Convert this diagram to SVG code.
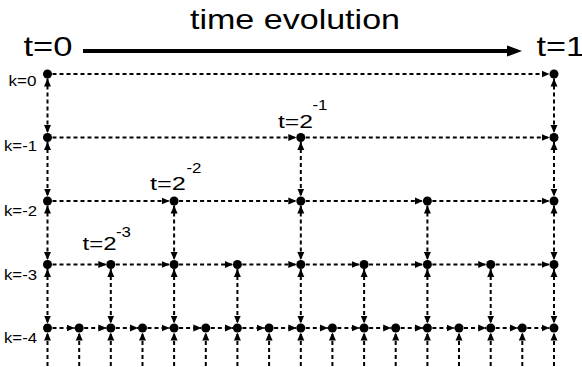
<svg xmlns="http://www.w3.org/2000/svg" width="582" height="367" viewBox="0 0 582 367">
<style>
text{font-family:"Liberation Sans",Arial,sans-serif;fill:#000}
.big{font-size:28px}
.mid{font-size:19px}
.sup{font-size:14px}
.lab{font-size:14px}
.c line{stroke:#000;stroke-width:2;stroke-dasharray:4 3;fill:none}
.h{marker-end:url(#ah)}
.v{marker-start:url(#ah);marker-end:url(#ah)}
.b{marker-end:url(#ah)}
.dot{fill:#000}
</style>
<defs>
<marker id="ah" viewBox="0 0 8 8" markerWidth="8" markerHeight="8" refX="8" refY="4" orient="auto-start-reverse" markerUnits="userSpaceOnUse"><path d="M0,0.5 L8,4 L0,7.5 z" fill="#000"/></marker>
</defs>
<rect width="582" height="367" fill="#fff"/>
<g id="title">
<text class="big" x="190" y="29" textLength="210" lengthAdjust="spacingAndGlyphs">time evolution</text>
<text class="big" x="23.5" y="55.5" textLength="49" lengthAdjust="spacingAndGlyphs">t=0</text>
<text class="big" x="536.5" y="55.5" textLength="48.5" lengthAdjust="spacingAndGlyphs">t=1</text>
<line x1="83" y1="51" x2="509" y2="51" stroke="#000" stroke-width="4"/>
<polygon points="507,45.5 522,51 507,56.5" fill="#000"/>
</g>
<g id="levels">
<text class="lab" x="8.5" y="86" textLength="28" lengthAdjust="spacingAndGlyphs">k=0</text>
<text class="lab" x="4" y="151" textLength="33" lengthAdjust="spacingAndGlyphs">k=-1</text>
<text class="lab" x="4" y="216" textLength="33" lengthAdjust="spacingAndGlyphs">k=-2</text>
<text class="lab" x="4" y="280" textLength="33" lengthAdjust="spacingAndGlyphs">k=-3</text>
<text class="lab" x="4" y="343" textLength="33" lengthAdjust="spacingAndGlyphs">k=-4</text>
</g>
<g id="timelabels">
<text class="mid" x="278" y="128" textLength="35" lengthAdjust="spacingAndGlyphs">t=2</text>
<text class="sup" x="312.5" y="110" textLength="15" lengthAdjust="spacingAndGlyphs">-1</text>
<text class="mid" x="150" y="190" textLength="36" lengthAdjust="spacingAndGlyphs">t=2</text>
<text class="sup" x="186.5" y="173" textLength="15" lengthAdjust="spacingAndGlyphs">-2</text>
<text class="mid" x="82.5" y="250" textLength="34" lengthAdjust="spacingAndGlyphs">t=2</text>
<text class="sup" x="116" y="237" textLength="15" lengthAdjust="spacingAndGlyphs">-3</text>
</g>
<g id="connectors" class="c">
<line class="h" x1="52.5" y1="74" x2="549.5" y2="74"/>
<line class="h" x1="52.5" y1="137.5" x2="296.3" y2="137.5"/>
<line class="h" x1="305.8" y1="137.5" x2="549.5" y2="137.5"/>
<line class="h" x1="52.5" y1="201" x2="169.6" y2="201"/>
<line class="h" x1="179.1" y1="201" x2="296.3" y2="201"/>
<line class="h" x1="305.8" y1="201" x2="422.9" y2="201"/>
<line class="h" x1="432.4" y1="201" x2="549.5" y2="201"/>
<line class="h" x1="52.5" y1="264.5" x2="106.3" y2="264.5"/>
<line class="h" x1="115.8" y1="264.5" x2="169.6" y2="264.5"/>
<line class="h" x1="179.1" y1="264.5" x2="232.9" y2="264.5"/>
<line class="h" x1="242.4" y1="264.5" x2="296.3" y2="264.5"/>
<line class="h" x1="305.8" y1="264.5" x2="359.6" y2="264.5"/>
<line class="h" x1="369.1" y1="264.5" x2="422.9" y2="264.5"/>
<line class="h" x1="432.4" y1="264.5" x2="486.2" y2="264.5"/>
<line class="h" x1="495.7" y1="264.5" x2="549.5" y2="264.5"/>
<line class="h" x1="52.5" y1="328" x2="74.7" y2="328"/>
<line class="h" x1="84.2" y1="328" x2="106.3" y2="328"/>
<line class="h" x1="115.8" y1="328" x2="138" y2="328"/>
<line class="h" x1="147.5" y1="328" x2="169.6" y2="328"/>
<line class="h" x1="179.1" y1="328" x2="201.3" y2="328"/>
<line class="h" x1="210.8" y1="328" x2="232.9" y2="328"/>
<line class="h" x1="242.4" y1="328" x2="264.6" y2="328"/>
<line class="h" x1="274.1" y1="328" x2="296.3" y2="328"/>
<line class="h" x1="305.8" y1="328" x2="327.9" y2="328"/>
<line class="h" x1="337.4" y1="328" x2="359.6" y2="328"/>
<line class="h" x1="369.1" y1="328" x2="391.2" y2="328"/>
<line class="h" x1="400.7" y1="328" x2="422.9" y2="328"/>
<line class="h" x1="432.4" y1="328" x2="454.5" y2="328"/>
<line class="h" x1="464" y1="328" x2="486.2" y2="328"/>
<line class="h" x1="495.7" y1="328" x2="517.8" y2="328"/>
<line class="h" x1="527.3" y1="328" x2="549.5" y2="328"/>
<line class="v" x1="47.5" y1="78.5" x2="47.5" y2="133"/>
<line class="v" x1="554" y1="78.5" x2="554" y2="133"/>
<line class="v" x1="47.5" y1="142" x2="47.5" y2="196.5"/>
<line class="v" x1="300.8" y1="142" x2="300.8" y2="196.5"/>
<line class="v" x1="554" y1="142" x2="554" y2="196.5"/>
<line class="v" x1="47.5" y1="205.5" x2="47.5" y2="260"/>
<line class="v" x1="174.1" y1="205.5" x2="174.1" y2="260"/>
<line class="v" x1="300.8" y1="205.5" x2="300.8" y2="260"/>
<line class="v" x1="427.4" y1="205.5" x2="427.4" y2="260"/>
<line class="v" x1="554" y1="205.5" x2="554" y2="260"/>
<line class="v" x1="47.5" y1="269" x2="47.5" y2="323.5"/>
<line class="v" x1="110.8" y1="269" x2="110.8" y2="323.5"/>
<line class="v" x1="174.1" y1="269" x2="174.1" y2="323.5"/>
<line class="v" x1="237.4" y1="269" x2="237.4" y2="323.5"/>
<line class="v" x1="300.8" y1="269" x2="300.8" y2="323.5"/>
<line class="v" x1="364.1" y1="269" x2="364.1" y2="323.5"/>
<line class="v" x1="427.4" y1="269" x2="427.4" y2="323.5"/>
<line class="v" x1="490.7" y1="269" x2="490.7" y2="323.5"/>
<line class="v" x1="554" y1="269" x2="554" y2="323.5"/>
<line class="b" x1="47.5" y1="366" x2="47.5" y2="332.5"/>
<line class="b" x1="79.2" y1="366" x2="79.2" y2="332.5"/>
<line class="b" x1="110.8" y1="366" x2="110.8" y2="332.5"/>
<line class="b" x1="142.5" y1="366" x2="142.5" y2="332.5"/>
<line class="b" x1="174.1" y1="366" x2="174.1" y2="332.5"/>
<line class="b" x1="205.8" y1="366" x2="205.8" y2="332.5"/>
<line class="b" x1="237.4" y1="366" x2="237.4" y2="332.5"/>
<line class="b" x1="269.1" y1="366" x2="269.1" y2="332.5"/>
<line class="b" x1="300.8" y1="366" x2="300.8" y2="332.5"/>
<line class="b" x1="332.4" y1="366" x2="332.4" y2="332.5"/>
<line class="b" x1="364.1" y1="366" x2="364.1" y2="332.5"/>
<line class="b" x1="395.7" y1="366" x2="395.7" y2="332.5"/>
<line class="b" x1="427.4" y1="366" x2="427.4" y2="332.5"/>
<line class="b" x1="459" y1="366" x2="459" y2="332.5"/>
<line class="b" x1="490.7" y1="366" x2="490.7" y2="332.5"/>
<line class="b" x1="522.3" y1="366" x2="522.3" y2="332.5"/>
<line class="b" x1="554" y1="366" x2="554" y2="332.5"/>
</g>
<g id="k0">
<g id="n0_0"><circle class="dot" cx="47.5" cy="74" r="4.5"/></g>
<g id="n0_16"><circle class="dot" cx="554" cy="74" r="4.5"/></g>
</g>
<g id="k-1">
<g id="n1_0"><circle class="dot" cx="47.5" cy="137.5" r="4.5"/></g>
<g id="n1_8"><circle class="dot" cx="300.8" cy="137.5" r="4.5"/></g>
<g id="n1_16"><circle class="dot" cx="554" cy="137.5" r="4.5"/></g>
</g>
<g id="k-2">
<g id="n2_0"><circle class="dot" cx="47.5" cy="201" r="4.5"/></g>
<g id="n2_4"><circle class="dot" cx="174.1" cy="201" r="4.5"/></g>
<g id="n2_8"><circle class="dot" cx="300.8" cy="201" r="4.5"/></g>
<g id="n2_12"><circle class="dot" cx="427.4" cy="201" r="4.5"/></g>
<g id="n2_16"><circle class="dot" cx="554" cy="201" r="4.5"/></g>
</g>
<g id="k-3">
<g id="n3_0"><circle class="dot" cx="47.5" cy="264.5" r="4.5"/></g>
<g id="n3_2"><circle class="dot" cx="110.8" cy="264.5" r="4.5"/></g>
<g id="n3_4"><circle class="dot" cx="174.1" cy="264.5" r="4.5"/></g>
<g id="n3_6"><circle class="dot" cx="237.4" cy="264.5" r="4.5"/></g>
<g id="n3_8"><circle class="dot" cx="300.8" cy="264.5" r="4.5"/></g>
<g id="n3_10"><circle class="dot" cx="364.1" cy="264.5" r="4.5"/></g>
<g id="n3_12"><circle class="dot" cx="427.4" cy="264.5" r="4.5"/></g>
<g id="n3_14"><circle class="dot" cx="490.7" cy="264.5" r="4.5"/></g>
<g id="n3_16"><circle class="dot" cx="554" cy="264.5" r="4.5"/></g>
</g>
<g id="k-4">
<g id="n4_0"><circle class="dot" cx="47.5" cy="328" r="4.5"/></g>
<g id="n4_1"><circle class="dot" cx="79.2" cy="328" r="4.5"/></g>
<g id="n4_2"><circle class="dot" cx="110.8" cy="328" r="4.5"/></g>
<g id="n4_3"><circle class="dot" cx="142.5" cy="328" r="4.5"/></g>
<g id="n4_4"><circle class="dot" cx="174.1" cy="328" r="4.5"/></g>
<g id="n4_5"><circle class="dot" cx="205.8" cy="328" r="4.5"/></g>
<g id="n4_6"><circle class="dot" cx="237.4" cy="328" r="4.5"/></g>
<g id="n4_7"><circle class="dot" cx="269.1" cy="328" r="4.5"/></g>
<g id="n4_8"><circle class="dot" cx="300.8" cy="328" r="4.5"/></g>
<g id="n4_9"><circle class="dot" cx="332.4" cy="328" r="4.5"/></g>
<g id="n4_10"><circle class="dot" cx="364.1" cy="328" r="4.5"/></g>
<g id="n4_11"><circle class="dot" cx="395.7" cy="328" r="4.5"/></g>
<g id="n4_12"><circle class="dot" cx="427.4" cy="328" r="4.5"/></g>
<g id="n4_13"><circle class="dot" cx="459" cy="328" r="4.5"/></g>
<g id="n4_14"><circle class="dot" cx="490.7" cy="328" r="4.5"/></g>
<g id="n4_15"><circle class="dot" cx="522.3" cy="328" r="4.5"/></g>
<g id="n4_16"><circle class="dot" cx="554" cy="328" r="4.5"/></g>
</g>
</svg>
